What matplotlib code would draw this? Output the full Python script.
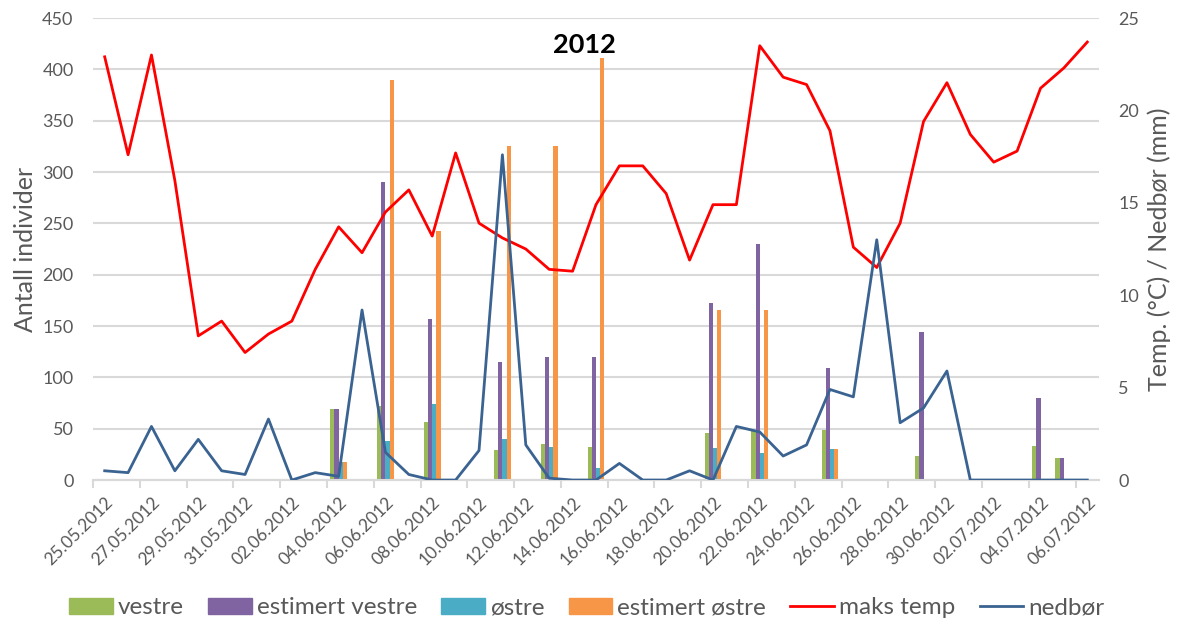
import numpy as np
import matplotlib.pyplot as plt
from matplotlib.lines import Line2D
from matplotlib.patches import Patch

plt.rcParams['font.family'] = ['Lato', 'DejaVu Sans']

dates = ['25.05.2012', '26.05.2012', '27.05.2012', '28.05.2012', '29.05.2012',
         '30.05.2012', '31.05.2012', '01.06.2012', '02.06.2012', '03.06.2012',
         '04.06.2012', '05.06.2012', '06.06.2012', '07.06.2012', '08.06.2012',
         '09.06.2012', '10.06.2012', '11.06.2012', '12.06.2012', '13.06.2012',
         '14.06.2012', '15.06.2012', '16.06.2012', '17.06.2012', '18.06.2012',
         '19.06.2012', '20.06.2012', '21.06.2012', '22.06.2012', '23.06.2012',
         '24.06.2012', '25.06.2012', '26.06.2012', '27.06.2012', '28.06.2012',
         '29.06.2012', '30.06.2012', '01.07.2012', '02.07.2012', '03.07.2012',
         '04.07.2012', '05.07.2012', '06.07.2012']

# counts (only days with registrations; others are empty)
vestre = {10: 69, 12: 72, 14: 57, 17: 29, 19: 35, 21: 32, 26: 46, 28: 48,
          31: 49, 35: 23, 40: 33, 41: 21}
est_vestre = {10: 69, 12: 290, 14: 157, 17: 115, 19: 120, 21: 120, 26: 172,
              28: 230, 31: 109, 35: 144, 40: 80, 41: 21}
ostre = {10: 18, 12: 38, 14: 74, 17: 40, 19: 32, 21: 12, 26: 31, 28: 26,
         31: 30}
est_ostre = {10: 18, 12: 390, 14: 243, 17: 325, 19: 325, 21: 411, 26: 166,
             28: 166, 31: 30}

maks_temp = [22.9, 17.6, 23.0, 16.2, 7.8, 8.6, 6.9, 7.9, 8.6, 11.4,
             13.7, 12.3, 14.5, 15.7, 13.2, 17.7, 13.9, 13.1, 12.5, 11.4,
             11.3, 14.9, 17.0, 17.0, 15.5, 11.9, 14.9, 14.9, 23.5, 21.8,
             21.4, 18.9, 12.6, 11.5, 13.9, 19.4, 21.5, 18.7, 17.2, 17.8,
             21.2, 22.3, 23.7]
nedbor = [0.5, 0.4, 2.9, 0.5, 2.2, 0.5, 0.3, 3.3, 0.0, 0.4,
          0.2, 9.2, 1.5, 0.3, 0.0, 0.0, 1.6, 17.6, 1.9, 0.1,
          0.0, 0.0, 0.9, 0.0, 0.0, 0.5, 0.0, 2.9, 2.6, 1.3,
          1.9, 4.9, 4.5, 13.0, 3.1, 3.9, 5.9, 0.0, 0.0, 0.0,
          0.0, 0.0, 0.0]

grey = '#595959'
grid_c = '#d9d9d9'
bar_series = [(vestre, '#9bbb59', 'vestre'),
              (est_vestre, '#8064a2', 'estimert vestre'),
              (ostre, '#4bacc6', 'østre'),
              (est_ostre, '#f79646', 'estimert østre')]

fig = plt.figure(figsize=(11.83, 6.21), dpi=100)
ax = fig.add_axes([0.0786, 0.227, 0.8504, 0.744])
ax2 = ax.twinx()

x = np.arange(len(dates))
w = 0.18
for k, (vals, col, lab) in enumerate(bar_series):
    idx = np.array(sorted(vals))
    h = np.array([vals[i] for i in idx])
    ax.bar(idx + (k - 1.5) * w, h, width=w, color=col, zorder=3)

ax2.plot(x, maks_temp, color='#ff0000', lw=2, zorder=4)
ax2.plot(x, nedbor, color='#3a6391', lw=2, zorder=4)

ax.set_xlim(-0.5, len(dates) - 0.5)
ax.set_ylim(0, 450)
ax.set_yticks(range(0, 451, 50))
ax2.set_ylim(0, 25)
ax2.set_yticks(range(0, 26, 5))

ax.yaxis.grid(True, color=grid_c, lw=1.5, zorder=0)
ax.set_axisbelow(True)
for a in (ax, ax2):
    for s in ('left', 'right', 'top'):
        a.spines[s].set_visible(False)
    a.spines['bottom'].set_color(grid_c)
    a.spines['bottom'].set_linewidth(1.5)
    a.tick_params(axis='y', length=0, labelsize=13, colors=grey, pad=14)

# date labels every second day, tick marks on category borders
ax.set_xticks(x[::2])
ax.set_xticklabels(dates[::2], rotation=45, ha='right', rotation_mode='anchor')
ax.tick_params(axis='x', length=0, labelsize=12.5, colors=grey, pad=10)
ax.set_xticks(np.arange(-0.5, len(dates), 2), minor=True)
ax.tick_params(axis='x', which='minor', length=6, color=grid_c, width=1.5)

ax.set_ylabel('Antall individer', fontsize=18, color=grey, labelpad=4)
ax2.set_ylabel('Temp. (°C) / Nedbør (mm)', fontsize=18, color=grey, labelpad=6)

fig.text(0.494, 0.927, '2012', fontsize=19.5, fontweight='bold', ha='center',
         va='center', color='black')

handles = [Patch(color=c) for _, c, _ in bar_series]
handles += [Line2D([], [], color='#ff0000', lw=2),
            Line2D([], [], color='#3a6391', lw=2)]
labels = [l for _, _, l in bar_series] + ['maks temp', 'nedbør']
fig.legend(handles, labels, loc='center', bbox_to_anchor=(0.496, 0.021),
           ncol=6, frameon=False, fontsize=17.5, labelcolor=grey,
           handlelength=1.8, handleheight=0.6, handletextpad=0.2,
           columnspacing=1.0, borderpad=0)

fig.savefig('out.png', dpi=100)
